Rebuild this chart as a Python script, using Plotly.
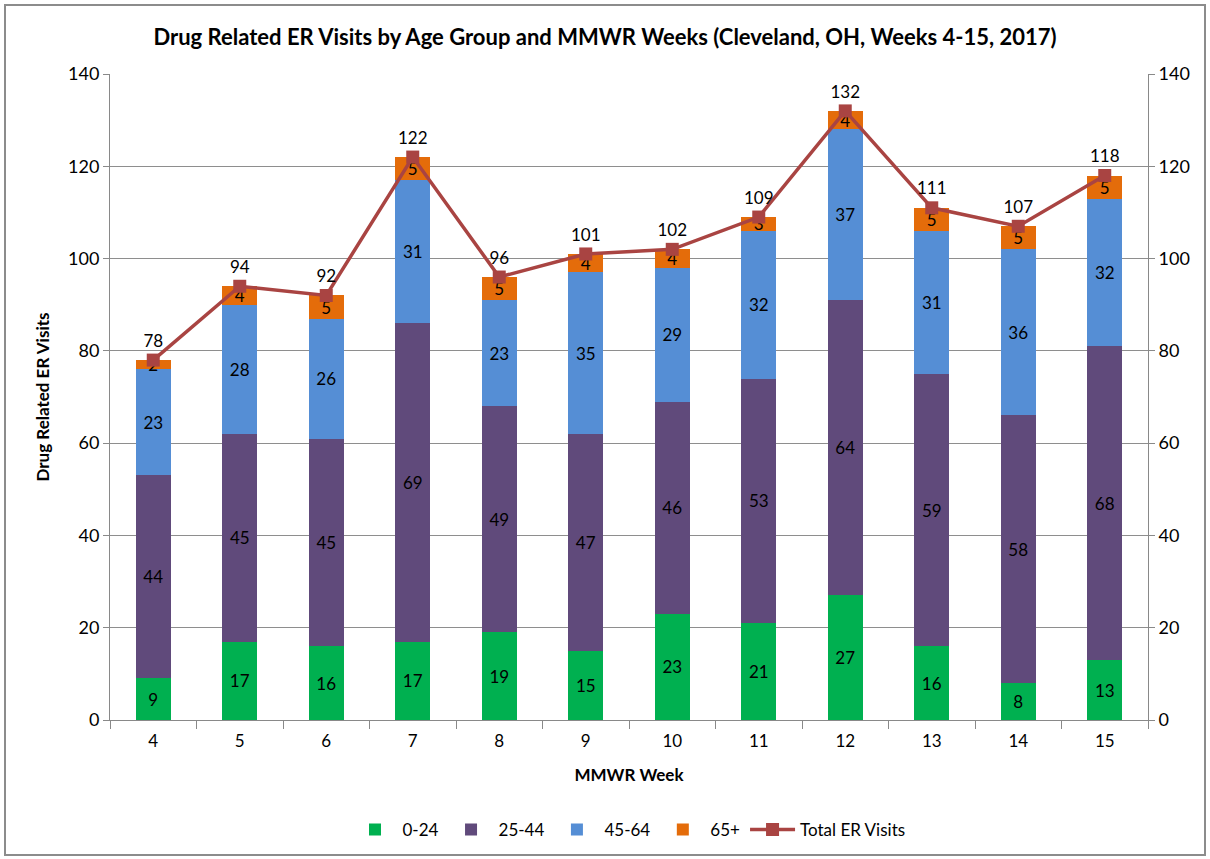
import plotly.graph_objects as go

weeks = ["4", "5", "6", "7", "8", "9", "10", "11", "12", "13", "14", "15"]
age_0_24 = [9, 17, 16, 17, 19, 15, 23, 21, 27, 16, 8, 13]
age_25_44 = [44, 45, 45, 69, 49, 47, 46, 53, 64, 59, 58, 68]
age_45_64 = [23, 28, 26, 31, 23, 35, 29, 32, 37, 31, 36, 32]
age_65_plus = [2, 4, 5, 5, 5, 4, 4, 3, 4, 5, 5, 5]
total_visits = [78, 94, 92, 122, 96, 101, 102, 109, 132, 111, 107, 118]

FONT = "Lato, 'Open Sans', Arial, sans-serif"
W, H = 1210, 859
ML, MR, MT, MB = 110, 62, 74, 139

fig = go.Figure()
series = [
    ("0-24", age_0_24, "#00B050"),
    ("25-44", age_25_44, "#604A7B"),
    ("45-64", age_45_64, "#558ED5"),
    ("65+", age_65_plus, "#E46C0A"),
]
for name, vals, col in series:
    fig.add_trace(go.Bar(
        x=weeks, y=vals, name=name, marker=dict(color=col, line=dict(width=0)),
        text=[str(v) for v in vals], textposition="inside", insidetextanchor="middle",
        textangle=0, constraintext="none",
        textfont=dict(family=FONT, size=17, color="#000000"), width=0.4,
    ))

fig.add_trace(go.Scatter(
    x=weeks, y=total_visits, name="Total ER Visits", mode="lines+markers+text",
    line=dict(color="#A94442", width=3.5),
    marker=dict(symbol="square", size=13, color="#A94442"),
    text=[str(v) for v in total_visits], textposition="top center",
    textfont=dict(family=FONT, size=17, color="#000000"),
    yaxis="y2", cliponaxis=False,
))

pw = W - ML - MR
ph = H - MT - MB
def px_x(p): return (p - ML) / pw
def px_y(p): return (H - MB - p) / ph

fig.update_layout(
    width=W, height=H,
    margin=dict(l=ML, r=MR, t=MT, b=MB, pad=0, autoexpand=False),
    barmode="stack",
    plot_bgcolor="white", paper_bgcolor="white",
    font=dict(family=FONT, size=17, color="#000000"),
    title=dict(text="<b>Drug Related ER Visits by Age Group and MMWR Weeks (Cleveland, OH, Weeks 4-15, 2017)</b>",
               x=0.5, xanchor="center", y=1 - 37 / H, yanchor="middle",
               font=dict(family=FONT, size=22, color="#000000")),
    xaxis=dict(
        title=dict(text="<b>MMWR Week</b>", font=dict(family=FONT, size=17), standoff=18),
        range=[-0.5, len(weeks) - 0.5], autorange=False,
        showline=True, linecolor="#898989", linewidth=1, automargin=False,
        ticks="outside", ticklen=8, tickcolor="#898989", tickson="boundaries",
        ticklabelstandoff=6,
        tickfont=dict(family=FONT, size=17),
        showgrid=False,
    ),
    yaxis=dict(
        title=dict(text="<b>Drug Related ER Visits</b>", font=dict(family=FONT, size=17), standoff=14),
        range=[0, 140], dtick=20, showline=True, linecolor="#898989", linewidth=1,
        automargin=False,
        ticks="outside", ticklen=6, tickcolor="#898989",
        showgrid=True, gridcolor="#8E8E8E", gridwidth=1,
        tickfont=dict(family=FONT, size=18), zeroline=False,
    ),
    yaxis2=dict(
        overlaying="y", side="right", range=[0, 140], dtick=20,
        showline=True, linecolor="#898989", linewidth=1, automargin=False,
        ticks="outside", ticklen=6, tickcolor="#898989",
        showgrid=False, zeroline=False, tickfont=dict(family=FONT, size=18),
    ),
    legend=dict(orientation="h", x=0.5, xanchor="center", y=px_y(830), yanchor="middle",
                font=dict(family=FONT, size=17), traceorder="normal", itemwidth=45),
    showlegend=True,
    shapes=[
        dict(type="rect", xref="paper", yref="paper",
             x0=px_x(5), x1=px_x(1205), y0=px_y(855), y1=px_y(5),
             line=dict(color="#8C8C8C", width=2), fillcolor="rgba(0,0,0,0)", layer="below"),
    ],
)

fig.write_html("out.html", config={"displayModeBar": False},
               post_script="document.body.style.margin='0';document.body.style.overflow='hidden';")
